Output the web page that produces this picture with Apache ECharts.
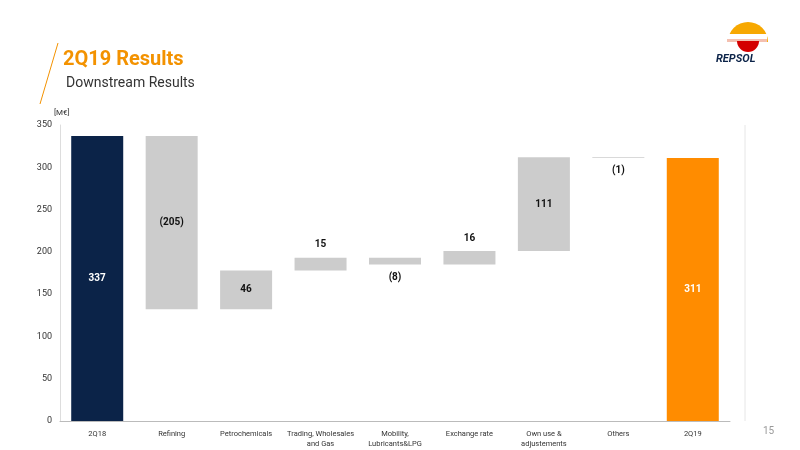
<!DOCTYPE html>
<html><head><meta charset="utf-8">
<script src="https://cdn.jsdelivr.net/npm/echarts@6/dist/echarts.min.js"></script>
<style>html,body{margin:0;padding:0;background:#fff}#c{width:800px;height:450px}</style>
</head><body><div id="c"></div>
<script>
const categories=['2Q18','Refining','Petrochemicals','Trading, Wholesales\nand Gas','Mobility,\nLubricants&LPG','Exchange rate','Own use &\nadjustements','Others','2Q19'];
const changes=[337,-205,46,15,-8,16,111,-1,311];
const labels=['337','(205)','46','15','(8)','16','111','(1)','311'];
const labelPos=['inside','inside','inside','top','bottom','top','inside','bottom','inside'];
const totals=[true,false,false,false,false,false,false,false,true];

const base=[],val=[];let run=0;
changes.forEach((c,i)=>{
  if(totals[i]){base.push(0);val.push(c);run=c;}
  else{const s=run,e=run+c;base.push(Math.min(s,e));val.push(Math.abs(c));run=e;}
});
const colors=categories.map((_,i)=>i===0?'#0b2348':(i===8?'#ff8c00':'#cccccc'));
const chart=echarts.init(document.getElementById('c'));
chart.setOption({
  animation:false,
  grid:{left:60,right:70,top:125,bottom:29},
  xAxis:{type:'category',data:categories,axisTick:{show:false},
    axisLine:{lineStyle:{color:'#bbb'}},
    axisLabel:{fontSize:7.5,color:'#333',interval:0,lineHeight:10,fontFamily:'Roboto'}},
  yAxis:{type:'value',min:0,max:350,interval:50,splitLine:{show:false},
    axisLine:{show:true,lineStyle:{color:'#ddd'}},
    axisLabel:{fontSize:9,color:'#333',fontFamily:'Roboto'}},
  series:[
    {type:'bar',stack:'w',data:base,itemStyle:{color:'transparent'},barWidth:52,silent:true},
    {type:'bar',stack:'w',barWidth:52,
     data:val.map((v,i)=>({value:v,itemStyle:{color:colors[i]},
       label:{show:true,position:labelPos[i],formatter:labels[i],
         color:(i===0||i===8)?'#fff':'#111',fontWeight:'bold',fontSize:10,distance:8,fontFamily:'Roboto'}}))}
  ],
  graphic:[
    {type:'line',shape:{x1:745,y1:125,x2:745,y2:421},style:{stroke:'#e6e6e6',lineWidth:1}},
    {type:'line',shape:{x1:58,y1:43,x2:40,y2:104},style:{stroke:'#f39200',lineWidth:1}},
    {type:'text',left:63,top:50,style:{text:'2Q19 Results',fill:'#f39200',font:'bold 20px Roboto'}},
    {type:'text',left:66,top:76,style:{text:'Downstream Results',fill:'#333',font:'14px Roboto'}},
    {type:'text',left:54,top:109,style:{text:'[M€]',fill:'#333',font:'8px Roboto'}},
    {type:'text',left:763,top:426,style:{text:'15',fill:'#999',font:'10px Roboto'}},
    {type:'sector',shape:{cx:748,cy:42,r:20,r0:0,startAngle:Math.PI,endAngle:Math.PI*2},style:{fill:'#f7a800'}},
    {type:'rect',shape:{x:727,y:34,width:40,height:5},style:{fill:'#fff'}},
    {type:'rect',shape:{x:727,y:39,width:40,height:3},style:{fill:'#f4c0b0'}},
    {type:'sector',shape:{cx:748,cy:41,r:11,r0:0,startAngle:0,endAngle:Math.PI},style:{fill:'#d40000'}},
    {type:'text',left:716,top:54,style:{text:'REPSOL',fill:'#0b2348',font:'italic bold 11px Roboto'}}
  ]
});
</script></body></html>
